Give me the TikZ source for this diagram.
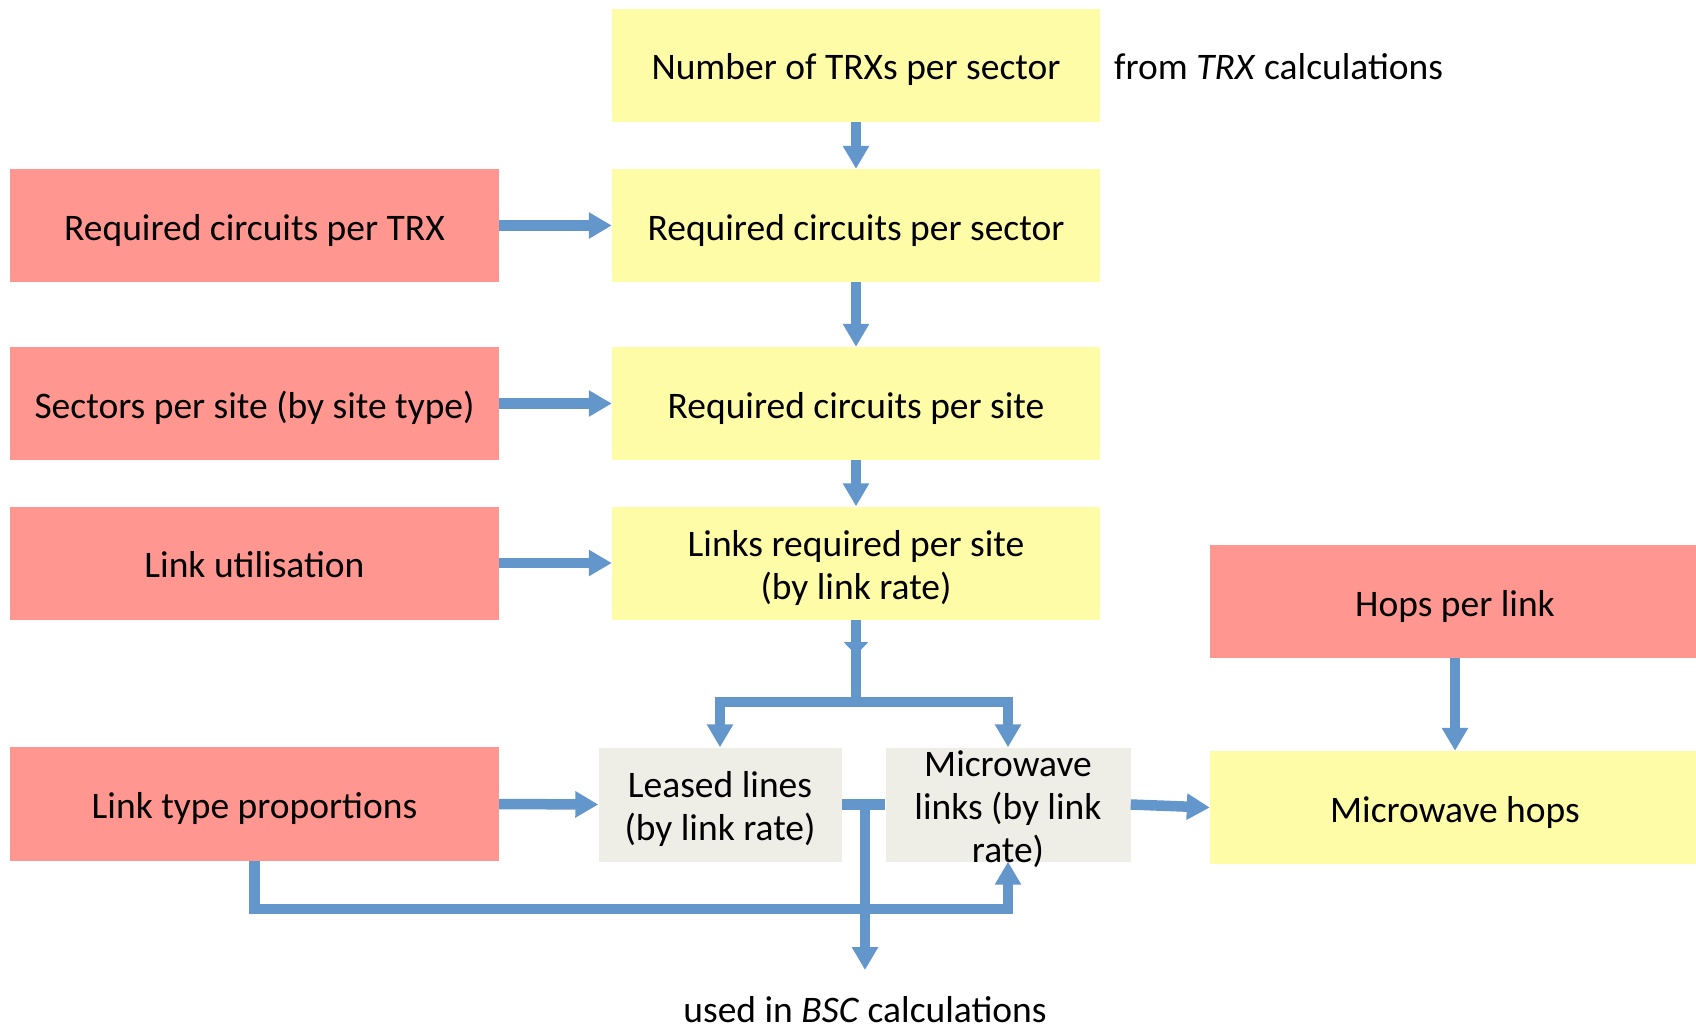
\documentclass[tikz,border=0pt]{standalone}
\usepackage{fontspec}
\setmainfont{Carlito}
\usetikzlibrary{arrows.meta}
\definecolor{redbox}{RGB}{255,150,143}
\definecolor{yelbox}{RGB}{255,252,168}
\definecolor{graybox}{RGB}{239,238,230}
\definecolor{arrblue}{RGB}{99,150,203}
\newcommand{\topstrut}{\rule{0pt}{40pt}}
\newcommand{\botstrut}{\rule[-11pt]{0pt}{0pt}}
\tikzset{
  plain/.style={rectangle, inner sep=0pt, align=center, text=black,
    font=\fontsize{37.5}{43}\selectfont},
  box/.style={plain},
  redn/.style={box, fill=redbox, minimum width=489pt, minimum height=113pt},
  yeln/.style={box, fill=yelbox, minimum width=488pt, minimum height=113pt},
  grayn/.style={box, fill=graybox, minimum height=114pt},
  conn/.style={draw=arrblue, line width=10.5pt, miter limit=10},
  arr/.style={conn, -{Triangle[width=25pt,length=23pt]}},
  arrs/.style={conn, -{Triangle[width=24pt,length=13pt]}},
}
\begin{document}
\begin{tikzpicture}[x=1pt,y=-1pt]
\useasboundingbox (0,0) rectangle (1696,1030);
% yellow column
\node[yeln] (n1) at (856,65.5) {\topstrut Number of TRXs per sector\botstrut};
\node[yeln] (n2) at (856,225.5) {\topstrut Required circuits per sector\botstrut};
\node[yeln] (n3) at (856,403.5) {\topstrut Required circuits per site\botstrut};
\node[yeln] (n4) at (856,563) {\topstrut Links required per site\\(by link rate)\botstrut};
% red column
\node[redn] (r1) at (254.5,225.5) {\topstrut Required circuits per TRX\botstrut};
\node[redn] (r2) at (254.5,403.5) {\topstrut Sectors per site (by site type)\botstrut};
\node[redn] (r3) at (254.5,563) {\topstrut Link utilisation\botstrut};
\node[redn, minimum height=114pt] (r4) at (254.5,804) {\topstrut Link type proportions\botstrut};
% gray
\node[grayn, minimum width=243pt] (ll) at (720,804.5) {\topstrut Leased lines\\(by link rate)\botstrut};
\node[grayn, minimum width=245pt] (mw) at (1008,804.5) {};
\node[plain] (mwt) at (1008,809) {Microwave\\links (by link\\rate)};
% right
\node[redn, minimum width=490pt] (hp) at (1455,601.5) {\topstrut Hops per link\botstrut};
\node[yeln, minimum width=490pt] (mh) at (1455,807.5) {\topstrut Microwave hops\botstrut};
% texts
\node[plain, anchor=west] (from) at (1114,67) {from \textit{TRX} calculations};
\node[plain] (used) at (865,1010) {used in \textit{BSC} calculations};
% arrows
\draw[arr] (n1) -- (n2);
\draw[arr] (n2) -- (n3);
\draw[arr] (n3) -- (n4);
\draw[arr] (r1.east) -- (n2.west);
\draw[arr] (r2.east) -- (n3.west);
\draw[arr] (r3.east) -- (n4.west);
\draw[arr] (r4.east) -- (ll.west);
\draw[arr] (hp) -- (mh);
\draw[arr] (mw.east) -- (mh.west);
% trunk and branch
\coordinate (tkh) at (856,655);
\coordinate (tkm) at (856,645);
\coordinate (tk) at (856,702);
\draw[arrs] (n4.south) -- (tkh);
\draw[conn] (tkm) -- (tk);
\draw[arr] (tk) -| (ll.north);
\draw[arr] (tk) -| (mw.north);
% connector between gray boxes and down to BSC
\draw[conn] (ll.east) -- (mw.west);
\coordinate (dn) at (865,804.5);
\coordinate (dnend) at (865,970);
\draw[arr] (dn) -- (dnend);
% bottom loop
\coordinate (bl) at (254.5,909);
\draw[arr] (r4.south) -- (bl) -| (mw.south);
\end{tikzpicture}
\end{document}
